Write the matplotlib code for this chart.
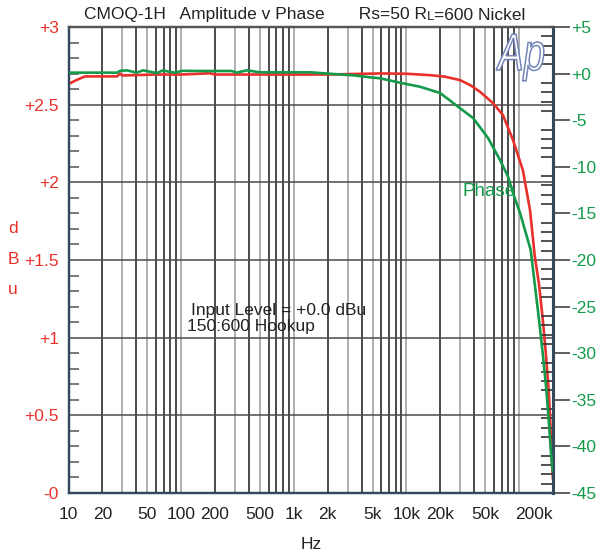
import numpy as np
import matplotlib
matplotlib.use("Agg")
import matplotlib.pyplot as plt
from matplotlib.ticker import FixedLocator, NullFormatter
from matplotlib.offsetbox import TextArea, HPacker, AnchoredOffsetbox
from matplotlib.textpath import TextPath
from matplotlib.patches import PathPatch
from matplotlib.font_manager import FontProperties
from matplotlib.transforms import Affine2D

plt.rcParams['font.family'] = ['Liberation Sans', 'DejaVu Sans']

# ---------------- data ----------------
amp_freq = [10, 11.9, 14, 27, 28.6, 30, 60, 100, 180, 200, 400, 1000, 2000,
            5800, 10000, 16200, 22000, 29900, 37000, 45000, 58600, 71900,
            88300, 108000, 125000, 138000, 150200, 162000, 172600, 182400,
            189000, 194000, 200000]
amp_dbu = [2.633, 2.66, 2.682, 2.682, 2.70, 2.688, 2.694, 2.694, 2.702, 2.694,
           2.694, 2.694, 2.694, 2.701, 2.699, 2.69, 2.68, 2.658, 2.625, 2.583,
           2.51, 2.433, 2.272, 2.079, 1.822, 1.52, 1.345, 1.123, 0.903, 0.682,
           0.464, 0.241, 0.087]

phase_freq = [10, 27, 28.7, 33, 40.3, 45.9, 53, 60.7, 69, 78, 88, 102, 150,
              200, 281, 311, 382, 501, 800, 1390, 2230, 3490, 4750, 5820, 8770,
              13200, 19900, 28700, 39000, 53000, 67700, 79800, 88300, 102000,
              126800, 137800, 149900, 161900, 173700, 183500, 192700, 200000]
phase_deg = [0.10, 0.10, 0.30, 0.35, 0.10, 0.35, 0.20, 0.05, 0.35, 0.20, 0.10,
             0.30, 0.28, 0.28, 0.28, 0.10, 0.35, 0.14, 0.14, 0.14, -0.04, -0.20,
             -0.40, -0.50, -0.98, -1.41, -2.08, -3.55, -4.76, -6.91, -9.27,
             -11.06, -12.81, -14.96, -18.93, -22.6, -26.28, -29.95, -33.63,
             -37.3, -40.98, -42.8]

x_ticks = [10, 20, 50, 100, 200, 500, 1000, 2000, 5000, 10000, 20000, 50000, 200000]
x_tick_labels = ['10', '20', '50', '100', '200', '500', '1k', '2k', '5k', '10k',
                 '20k', '50k', '200k']
left_ticks = [0, 0.5, 1, 1.5, 2, 2.5, 3]
left_tick_labels = ['-0', '+0.5', '+1', '+1.5', '+2', '+2.5', '+3']
right_ticks = [5, 0, -5, -10, -15, -20, -25, -30, -35, -40, -45]
right_tick_labels = ['+5', '+0', '-5', '-10', '-15', '-20', '-25', '-30', '-35',
                     '-40', '-45']

RED = '#e8312a'
GREEN = '#139a4a'
SPINE = '#34495e'
TXT = '#222222'
FS = 12.5

fig = plt.figure(figsize=(6.02, 5.58), dpi=100)
ax = fig.add_axes([68.5 / 602, 65 / 558, 484.5 / 602, 466 / 558])
ax2 = ax.twinx()

ax.set_xscale('log')
ax.set_xlim(10, 200000)
ax.set_ylim(0, 3)
ax2.set_ylim(-45, 5)

# vertical grid (log decade lines)
dark_mult = {2, 4, 6, 7, 8, 9}
for dec in [10, 100, 1000, 10000, 100000]:
    for m in range(1, 10):
        f = dec * m
        if f <= 10 or f >= 200000:
            continue
        col = '#1a1a1a' if m in dark_mult else '#9a9a9a'
        ax.axvline(f, color=col, lw=1.1, zorder=1)
# horizontal grid at left majors
for v in left_ticks[1:-1]:
    ax.axhline(v, color='#4a4a4a', lw=1.1, zorder=1)

ax.plot(amp_freq, amp_dbu, color=RED, lw=1.9, zorder=3, solid_capstyle='butt')
ax2.plot(phase_freq, phase_deg, color=GREEN, lw=1.9, zorder=3, solid_capstyle='butt')
ax2.set_zorder(ax.get_zorder() + 1)
ax2.patch.set_visible(False)

# x ticks
ax.xaxis.set_major_locator(FixedLocator(x_ticks))
ax.set_xticklabels(x_tick_labels)
ax.xaxis.set_minor_locator(FixedLocator([]))
ax.tick_params(axis='x', which='major', length=0, pad=10, labelsize=FS, colors=TXT)
for lbl in ax.get_xticklabels():
    if lbl.get_text() == '200k':
        lbl.set_horizontalalignment('right')
ax.set_xlabel('Hz', fontsize=FS, labelpad=11, color=TXT)

# left y ticks
ax.yaxis.set_major_locator(FixedLocator(left_ticks))
ax.set_yticklabels(left_tick_labels)
ax.yaxis.set_minor_locator(FixedLocator([i / 10 for i in range(1, 30) if i % 5 != 0]))
ax.yaxis.set_minor_formatter(NullFormatter())
ax.tick_params(axis='y', which='major', length=0, pad=7, labelsize=FS, labelcolor=RED)
ax.tick_params(axis='y', which='minor', direction='in', length=7, width=1.1, color='#555555')

# right y ticks
ax2.yaxis.set_major_locator(FixedLocator(right_ticks))
ax2.set_yticklabels(right_tick_labels)
ax2.yaxis.set_minor_locator(FixedLocator([v for v in range(-44, 5) if v % 5 != 0]))
ax2.yaxis.set_minor_formatter(NullFormatter())
ax2.tick_params(axis='y', which='major', direction='out', length=12, width=1.2,
                color='#444444', pad=1, labelsize=FS, labelcolor=GREEN)
ax2.tick_params(axis='y', which='minor', direction='in', length=9, width=1.2, color='#333333')

for a in (ax, ax2):
    a.spines['left'].set_color(SPINE)
    a.spines['left'].set_linewidth(1.6)
    a.spines['right'].set_color(SPINE)
    a.spines['right'].set_linewidth(2.2)
    a.spines['top'].set_color('#555555')
    a.spines['top'].set_linewidth(1.6)
    a.spines['bottom'].set_color(SPINE)
    a.spines['bottom'].set_linewidth(1.6)

# dBu vertical label
for ch, yy in [('d', 228), ('B', 260), ('u', 290)]:
    fig.text(13 / 602, 1 - yy / 558, ch, color=RED, fontsize=FS, ha='center', va='center')

# title with small-caps L
parts = [TextArea('CMOQ-1H   Amplitude v Phase       Rs=50 R',
                  textprops=dict(fontsize=12.5, color=TXT)),
         TextArea('L', textprops=dict(fontsize=9.5, color=TXT)),
         TextArea('=600 Nickel', textprops=dict(fontsize=12.5, color=TXT))]
box = HPacker(children=parts, align='baseline', pad=0, sep=0)
anch = AnchoredOffsetbox(loc='center', child=box, frameon=False, pad=0,
                         bbox_to_anchor=(305 / 602, 1 - 15 / 558),
                         bbox_transform=fig.transFigure, borderpad=0)
fig.add_artist(anch)

# annotations
ax.text(0.253, 0.392, 'Input Level = +0.0 dBu', transform=ax.transAxes,
        fontsize=12.5, color=TXT, va='center', ha='left')
ax.text(0.245, 0.358, '150:600 Hookup', transform=ax.transAxes,
        fontsize=12.5, color=TXT, va='center', ha='left')
ax.text(0.814, 0.646, 'Phase', transform=ax.transAxes, fontsize=13.5,
        color=GREEN, va='center', ha='left', zorder=5)

# Ap logo (outlined, narrow italic), placed in pixel coordinates
tp = TextPath((0, 0), 'Ap', size=52,
              prop=FontProperties(family='Liberation Sans', style='italic'))
logo_tf = Affine2D().scale(0.74, 1.0).translate(498, 558 - 70)
logo = PathPatch(tp, facecolor='white', edgecolor='#7384b8', lw=1.1,
                 transform=logo_tf, zorder=10)
fig.add_artist(logo)

fig.savefig('out.png', dpi=100)
